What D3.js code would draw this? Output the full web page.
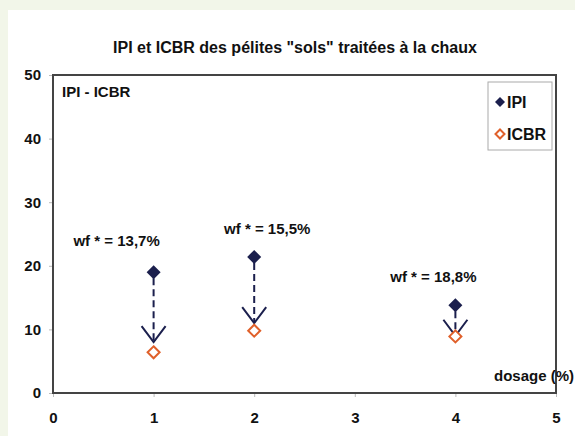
<!DOCTYPE html>
<html>
<head>
<meta charset="utf-8">
<script src="https://cdn.jsdelivr.net/npm/d3@7"></script>
<style>
  body { margin: 0; background: #f2f6e9; }
  svg { display: block; }
  text { font-family: "Liberation Sans", Arial, sans-serif; font-weight: bold; fill: #111; }
</style>
</head>
<body>
<div class="chart"></div>
<script>
const w = 575;
const h = 436;

// data
const dosage = [1, 2, 4];
const ipi = [19.0, 21.4, 13.8];
const icbr = [6.4, 9.8, 8.9];
const arrowEnd = [8.0, 11.0, 9.0];
const wfLabels = ["wf * = 13,7%", "wf * = 15,5%", "wf * = 18,8%"];
const xTicks = [0, 1, 2, 3, 4, 5];
const yTicks = [0, 10, 20, 30, 40, 50];

// label offsets from the IPI point (pixels)
const labelOffset = [[-37, -26], [13, -23], [-22, -23]];

const navy = "#1b1f4d";
const orange = "#e0602a";

const svg = d3.select(".chart")
  .append("svg")
  .attr("width", w)
  .attr("height", h);

// white panel
svg.append("rect")
  .attr("x", 8).attr("y", 10)
  .attr("width", w - 8).attr("height", h - 10)
  .attr("fill", "#fff");

const x = d3.scaleLinear().domain([0, 5]).range([53, 556]);
const y = d3.scaleLinear().domain([0, 50]).range([393, 75]);

svg.append("text")
  .attr("x", 295).attr("y", 53)
  .attr("text-anchor", "middle")
  .attr("font-size", 16)
  .text('IPI et ICBR des pélites "sols" traitées à la chaux');

// axes
const yAxis = svg.append("g")
  .attr("transform", `translate(${x(0)},0)`)
  .call(d3.axisLeft(y).tickValues(yTicks).tickSize(4).tickPadding(8));
const xAxis = svg.append("g")
  .attr("transform", `translate(0,${y(0)})`)
  .call(d3.axisBottom(x).tickValues(xTicks).tickFormat(d3.format("d")).tickSize(4).tickPadding(15));
[xAxis, yAxis].forEach(g => {
  g.select(".domain").remove();
  g.selectAll("line").attr("stroke", "#bbb");
  g.selectAll("text").attr("font-size", 15).attr("fill", "#111")
    .attr("font-family", '"Liberation Sans", Arial, sans-serif');
});

// plot frame
svg.append("rect")
  .attr("x", x(0)).attr("y", y(50))
  .attr("width", x(5) - x(0)).attr("height", y(0) - y(50))
  .attr("fill", "none")
  .attr("stroke", "#444")
  .attr("stroke-width", 2);

svg.append("text")
  .attr("x", 62).attr("y", 97)
  .attr("font-size", 15)
  .text("IPI - ICBR");

svg.append("text")
  .attr("x", 574).attr("y", 381)
  .attr("text-anchor", "end")
  .attr("font-size", 15)
  .text("dosage (%)");

const diamond = r => `M0,${-r}L${r},0L0,${r}L${-r},0Z`;

const pts = dosage.map((d, i) => ({ d, ipi: ipi[i], icbr: icbr[i], end: arrowEnd[i], label: wfLabels[i], off: labelOffset[i] }));

// dashed arrows
svg.selectAll(".shaft")
  .data(pts)
  .enter().append("line")
  .attr("x1", p => x(p.d)).attr("x2", p => x(p.d))
  .attr("y1", p => y(p.ipi) + 6).attr("y2", p => y(p.end))
  .attr("stroke", navy)
  .attr("stroke-width", 2)
  .attr("stroke-dasharray", "7,4");

svg.selectAll(".head")
  .data(pts)
  .enter().append("path")
  .attr("d", p => {
    const cx = x(p.d), cy = y(p.end);
    return `M${cx - 12},${cy - 16}L${cx},${cy}L${cx + 12},${cy - 16}`;
  })
  .attr("fill", "none")
  .attr("stroke", navy)
  .attr("stroke-width", 2);

svg.selectAll(".icbr")
  .data(pts)
  .enter().append("path")
  .attr("transform", p => `translate(${x(p.d)},${y(p.icbr)})`)
  .attr("d", diamond(6))
  .attr("fill", "#fff")
  .attr("stroke", orange)
  .attr("stroke-width", 2);

svg.selectAll(".ipi")
  .data(pts)
  .enter().append("path")
  .attr("transform", p => `translate(${x(p.d)},${y(p.ipi)})`)
  .attr("d", diamond(7))
  .attr("fill", navy);

svg.selectAll(".wf")
  .data(pts)
  .enter().append("text")
  .attr("x", p => x(p.d) + p.off[0])
  .attr("y", p => y(p.ipi) + p.off[1])
  .attr("text-anchor", "middle")
  .attr("font-size", 15)
  .text(p => p.label);

// legend
const lg = svg.append("g");
lg.append("rect")
  .attr("x", 488).attr("y", 82)
  .attr("width", 64).attr("height", 68)
  .attr("fill", "#fff")
  .attr("stroke", "#aaa");
lg.append("path").attr("transform", "translate(500,102)").attr("d", diamond(5)).attr("fill", navy);
lg.append("text").attr("x", 507).attr("y", 108).attr("font-size", 16).attr("font-weight", "normal").text("IPI");
lg.append("path").attr("transform", "translate(500,134)").attr("d", diamond(4.5)).attr("fill", "#fff").attr("stroke", orange).attr("stroke-width", 2);
lg.append("text").attr("x", 507).attr("y", 140).attr("font-size", 16).attr("font-weight", "normal").text("ICBR");
</script>
</body>
</html>
